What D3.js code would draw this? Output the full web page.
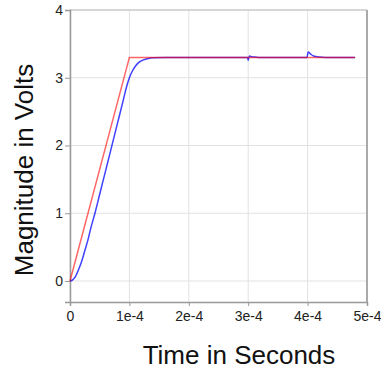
<!DOCTYPE html>
<html>
<head>
<meta charset="utf-8">
<script src="https://d3js.org/d3.v7.min.js"></script>
<style>
  body { margin: 0; background: #fff; }
  svg { display: block; font-family: "Liberation Sans", Arial, sans-serif; }
</style>
</head>
<body>
<div id="chart"></div>
<script>
// time in units of 1e-4 s
const refTime = [0, 1.0, 4.8];
const refVolts = [0, 3.3, 3.3];

const outTime = [0, 0.05, 0.1, 0.15, 0.2, 0.25, 0.3, 0.35, 0.42, 0.5, 0.6, 0.7, 0.8, 0.9, 0.95, 1.0,
  1.05, 1.1, 1.15, 1.2, 1.3, 1.4, 1.6, 2.0, 2.99, 3.0, 3.02, 3.06, 3.12, 3.2, 3.99, 4.01, 4.05,
  4.1, 4.2, 4.3, 4.8];
const outVolts = [0, 0.02, 0.08, 0.18, 0.3, 0.45, 0.6, 0.78, 1.0, 1.28, 1.63, 1.98, 2.33, 2.68, 2.86, 3.0,
  3.1, 3.17, 3.22, 3.25, 3.28, 3.295, 3.3, 3.3, 3.3, 3.26, 3.32, 3.31, 3.305, 3.3, 3.3, 3.38, 3.35,
  3.32, 3.305, 3.3, 3.3];

const xTicks = [0, 1, 2, 3, 4, 5];
const xTickLabels = ["0", "1e-4", "2e-4", "3e-4", "4e-4", "5e-4"];
const yTicks = [0, 1, 2, 3, 4];

const W = 381, H = 369;
const margin = {top: 10, right: 14, bottom: 67, left: 70};
const width = W - margin.left - margin.right;
const height = H - margin.top - margin.bottom;

const svg = d3.select("#chart").append("svg")
    .attr("width", W)
    .attr("height", H);

const g = svg.append("g")
    .attr("transform", `translate(${margin.left},${margin.top})`);

const x = d3.scaleLinear().domain([0, 5]).range([0, width]);
const y = d3.scaleLinear().domain([-0.31, 4]).range([height, 0]);

// Gridlines
g.selectAll("line.vgrid")
    .data(xTicks)
    .enter().append("line")
    .attr("class", "vgrid")
    .attr("x1", d => x(d)).attr("x2", d => x(d))
    .attr("y1", 0).attr("y2", height)
    .style("stroke", "#e2e2e2");

g.selectAll("line.hgrid")
    .data(yTicks)
    .enter().append("line")
    .attr("class", "hgrid")
    .attr("x1", 0).attr("x2", width)
    .attr("y1", d => y(d)).attr("y2", d => y(d))
    .style("stroke", "#e2e2e2");

// Frame
g.append("line").attr("x1", 0).attr("x2", width).attr("y1", 0).attr("y2", 0)
    .style("stroke", "#bbb");
g.append("line").attr("x1", width).attr("x2", width).attr("y1", 0).attr("y2", height)
    .style("stroke", "#aaa").style("stroke-width", 2);

// Axes
const xAxis = g.append("g")
    .attr("transform", `translate(0,${height})`)
    .call(d3.axisBottom(x).tickValues(xTicks).tickFormat((d, i) => xTickLabels[i]).tickSize(4).tickPadding(5));

const yAxis = g.append("g")
    .call(d3.axisLeft(y).tickValues(yTicks).tickFormat(d3.format("d")).tickSize(5).tickPadding(2));

[xAxis, yAxis].forEach(a => {
    a.select(".domain").style("stroke", "#999").style("stroke-width", 1.5);
    a.selectAll(".tick line").style("stroke", "#999");
    a.selectAll(".tick text")
        .style("font-size", "14px")
        .style("fill", "#222")
        .style("font-family", "Liberation Sans, Arial, sans-serif");
});

// Lines
const line = d3.line()
    .x(d => x(d[0]))
    .y(d => y(d[1]));

g.append("path")
    .datum(outTime.map((t, i) => [t, outVolts[i]]))
    .attr("fill", "none")
    .style("stroke", "#0000ff")
    .style("stroke-opacity", 0.75)
    .style("stroke-width", 1.5)
    .attr("d", line.curve(d3.curveMonotoneX));

g.append("path")
    .datum(refTime.map((t, i) => [t, refVolts[i]]))
    .attr("fill", "none")
    .style("stroke", "#ff0000")
    .style("stroke-opacity", 0.6)
    .style("stroke-width", 1.5)
    .attr("d", d3.line().x(d => x(d[0])).y(d => y(d[1])));

// Titles
svg.append("text")
    .attr("x", 239)
    .attr("y", 364)
    .attr("text-anchor", "middle")
    .style("font-size", "26px")
    .style("fill", "#111")
    .text("Time in Seconds");

svg.append("text")
    .attr("transform", "translate(33,170) rotate(-90)")
    .attr("text-anchor", "middle")
    .style("font-size", "26px")
    .style("fill", "#111")
    .text("Magnitude in Volts");
</script>
</body>
</html>
